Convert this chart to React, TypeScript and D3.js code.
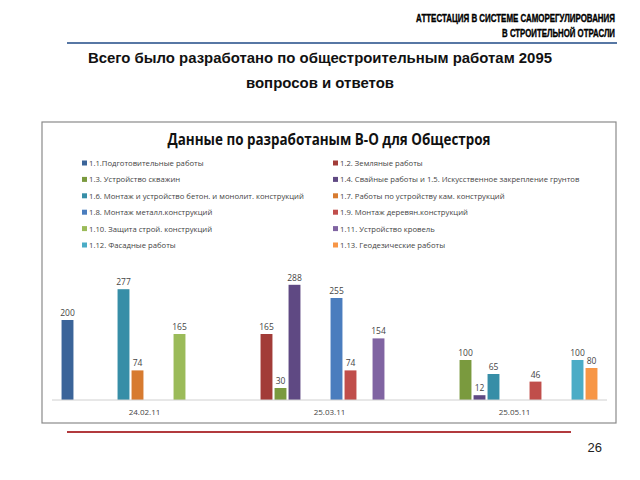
import React, { useLayoutEffect, useRef, useState } from "react";
import * as d3 from "d3";

const categories = ["24.02.11", "25.03.11", "25.05.11"];
const seriesNames = [
  "1.1.Подготовительные работы",
  "1.2. Земляные работы",
  "1.3. Устройство скважин",
  "1.4. Свайные работы и 1.5. Искусственное закрепление грунтов",
  "1.6. Монтаж и устройство бетон. и монолит. конструкций",
  "1.7. Работы по устройству кам. конструкций",
  "1.8. Монтаж металл.конструкций",
  "1.9. Монтаж деревян.конструкций",
  "1.10. Защита строй. конструкций",
  "1.11. Устройство кровель",
  "1.12. Фасадные работы",
  "1.13. Геодезические работы",
];
const seriesColors = [
  "#3B6499", "#A23C38", "#7A9A3E", "#5F4983", "#378EA7", "#D77B30",
  "#4A7DBE", "#C04E4B", "#9BBB59", "#8064A2", "#4BACC6", "#F79646",
];
// values per category, one per series (null = no bar)
const values24_02: (number | null)[] = [200, null, null, null, 277, 74, null, null, 165, null, null, null];
const values25_03: (number | null)[] = [null, 165, 30, 288, null, null, 255, 74, null, 154, null, null];
const values25_05: (number | null)[] = [null, null, 100, 12, 65, null, null, 46, null, null, 100, 80];
const valuesByCategory = [values24_02, values25_03, values25_05];

const headerLines = ["АТТЕСТАЦИЯ В СИСТЕМЕ САМОРЕГУЛИРОВАНИЯ", "В СТРОИТЕЛЬНОЙ ОТРАСЛИ"];
const subtitleLines = ["Всего было разработано по общестроительным работам 2095", "вопросов и ответов"];
const chartTitle = "Данные по разработаным В-О для Общестроя";
const pageNumber = "26";

const headerWidths = [199, 113];

function Header() {
  const refs = [useRef<SVGTextElement>(null), useRef<SVGTextElement>(null)];
  const [scales, setScales] = useState([0.8, 0.8]);
  useLayoutEffect(() => {
    const s = refs.map((r, i) => {
      const w = r.current ? r.current.getComputedTextLength() : 0;
      return w > 0 ? headerWidths[i] / w : 0.8;
    });
    setScales(s);
  }, []);
  return (
    <g>
      {headerLines.map((t, i) => (
        <text
          key={t}
          ref={refs[i]}
          transform={`translate(615,${22 + i * 14.5}) scale(${scales[i]},1)`}
          textAnchor="end"
          fontFamily="'Liberation Sans', Arial, sans-serif"
          fontWeight="bold"
          fontSize={10}
          fill="#000"
          stroke="#000"
          strokeWidth={0.35}
        >
          {t}
        </text>
      ))}
    </g>
  );
}

export default function App() {
  const x0 = d3.scaleBand<string>().domain(categories).range([52, 607]);
  const bw = x0.bandwidth();
  const x1 = d3
    .scaleBand<number>()
    .domain(d3.range(seriesNames.length))
    .range([8.5, 8.5 + 14 * seriesNames.length])
    .paddingInner(0.15)
    .paddingOuter(0.075);
  const y = d3.scaleLinear().domain([0, 300]).range([400, 280]);
  const legendRow = d3.scaleLinear().domain([0, 5]).range([163, 245]);

  const sans = "'Liberation Sans', Arial, sans-serif";
  const legendFont = "'Open Sans', 'Liberation Sans', sans-serif";

  return (
    <svg width={640} height={480} style={{ position: "absolute", left: 0, top: 0, background: "#fff" }}>
      <Header />
      <line x1={67} x2={617} y1={43} y2={43} stroke="#5777A4" strokeWidth={2} />
      {/* subtitle */}
      {subtitleLines.map((t, i) => (
        <text
          key={t}
          x={320}
          y={63 + i * 24.5}
          textAnchor="middle"
          fontFamily={sans}
          fontWeight="bold"
          fontSize={15}
          textLength={i === 0 ? 464 : 148}
          lengthAdjust="spacingAndGlyphs"
          fill="#111"
        >
          {t}
        </text>
      ))}
      {/* chart frame */}
      <rect x={42} y={122} width={574} height={301} fill="#fff" stroke="#8a8a8a" strokeWidth={1.2} />
      <text
        x={329}
        y={145}
        textAnchor="middle"
        fontFamily={legendFont}
        fontWeight="bold"
        fontSize={15.5}
        textLength={323}
        lengthAdjust="spacingAndGlyphs"
        fill="#111"
      >
        {chartTitle}
      </text>
      {/* legend */}
      {seriesNames.map((name, i) => {
        const col = i % 2;
        const row = Math.floor(i / 2);
        const sx = col === 0 ? 82 : 333;
        const cy = legendRow(row);
        return (
          <g key={name}>
            <rect x={sx} y={cy - 2.5} width={5} height={5} fill={seriesColors[i]} />
            <text x={sx + 7} y={cy + 3} fontFamily={legendFont} fontSize={7.7} fill="#444">
              {name}
            </text>
          </g>
        );
      })}
      {/* bars */}
      {categories.map((cat, ci) => (
        <g key={cat} transform={`translate(${x0(cat)},0)`}>
          {valuesByCategory[ci].map((v, si) =>
            v == null ? null : (
              <g key={si}>
                <rect
                  x={x1(si)}
                  y={y(v)}
                  width={x1.bandwidth()}
                  height={y(0) - y(v)}
                  fill={seriesColors[si]}
                />
                <text
                  x={(x1(si) as number) + x1.bandwidth() / 2}
                  y={y(v) - 4}
                  textAnchor="middle"
                  fontFamily={legendFont}
                  fontSize={8.5}
                  fill="#444"
                >
                  {v}
                </text>
              </g>
            )
          )}
          <text
            x={bw / 2}
            y={415}
            textAnchor="middle"
            fontFamily={legendFont}
            fontSize={8}
            fill="#444"
          >
            {cat}
          </text>
        </g>
      ))}
      <line x1={52} x2={607} y1={y(0)} y2={y(0)} stroke="#d0d0d0" strokeWidth={1} />
      {/* footer */}
      <line x1={67} x2={571} y1={432} y2={432} stroke="#B23A3E" strokeWidth={2} />
      <text x={602} y={452} textAnchor="end" fontFamily={sans} fontSize={13} fill="#222">
        {pageNumber}
      </text>
    </svg>
  );
}
